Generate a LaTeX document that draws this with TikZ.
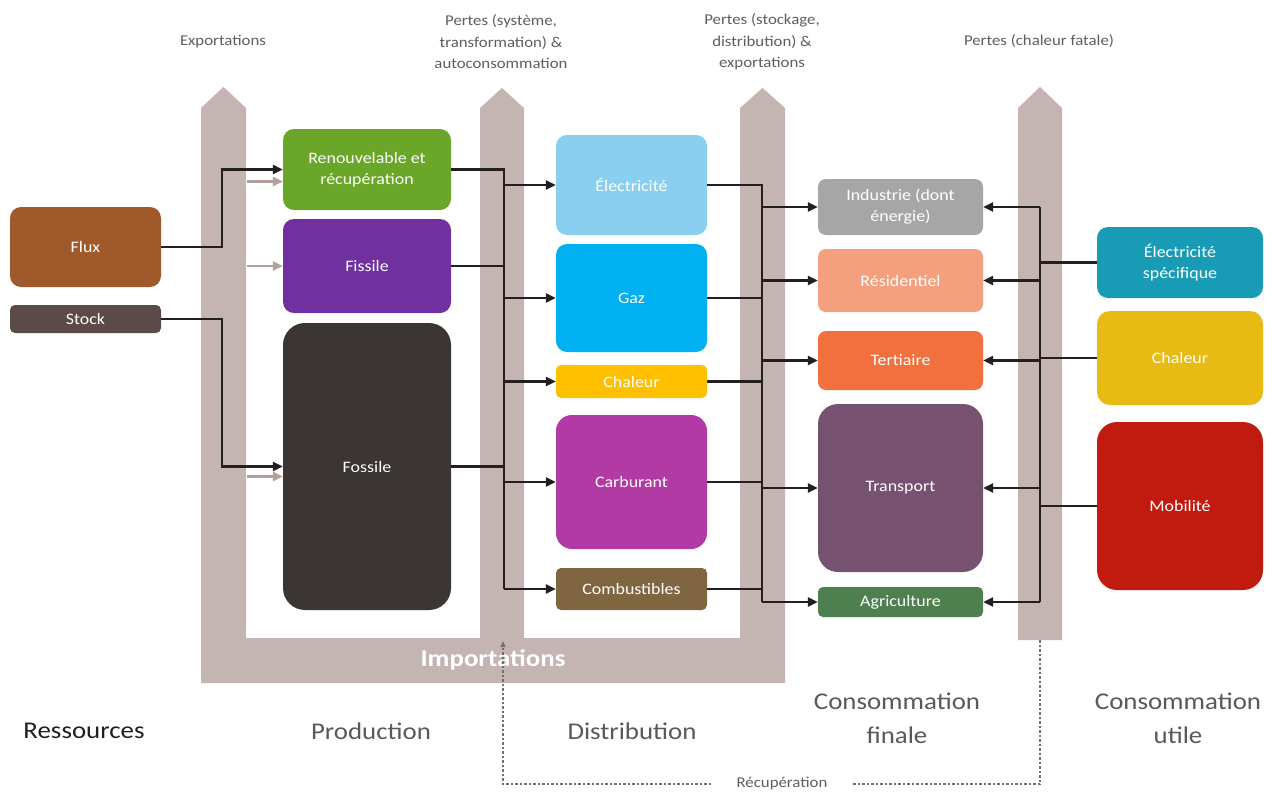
\documentclass[tikz,border=0pt]{standalone}
\usepackage{fontspec}
\setmainfont[FakeStretch=1.12]{Carlito}
\usetikzlibrary{arrows.meta}
\definecolor{bandc}{HTML}{C4B4B2}
\definecolor{linec}{HTML}{231F20}
\definecolor{lightc}{HTML}{B3A09C}
\definecolor{labc}{HTML}{5F5F5F}
\definecolor{botc}{HTML}{595959}
\definecolor{dashc}{HTML}{707070}
\definecolor{cflux}{HTML}{A0592A}
\definecolor{cstock}{HTML}{5B4A47}
\definecolor{crenouv}{HTML}{6AA628}
\definecolor{cfissile}{HTML}{7030A0}
\definecolor{cfossile}{HTML}{3B3534}
\definecolor{celec}{HTML}{8ACFEF}
\definecolor{cgaz}{HTML}{00B0F0}
\definecolor{cchal}{HTML}{FFC000}
\definecolor{ccarb}{HTML}{B13AA4}
\definecolor{ccomb}{HTML}{7F6641}
\definecolor{cindus}{HTML}{A6A6A6}
\definecolor{cres}{HTML}{F4A07F}
\definecolor{ctert}{HTML}{F2703D}
\definecolor{ctrans}{HTML}{775170}
\definecolor{cagri}{HTML}{4D7F4F}
\definecolor{celsp}{HTML}{189CB6}
\definecolor{cchalu}{HTML}{E8BA14}
\definecolor{cmob}{HTML}{C01B0E}
\begin{document}
\begin{tikzpicture}[x=1pt,y=-1pt,
 box/.style={rounded corners=11pt, inner sep=0pt, text=white, align=center, font=\fontsize{16}{21}\selectfont},
 sbox/.style={box, rounded corners=5pt},
 conn/.style={draw=linec, line width=2.7pt, -{Triangle[length=10pt,width=9pt]}},
 bline/.style={draw=linec, line width=2.7pt},
 lconn/.style={draw=lightc, line width=2.7pt, -{Triangle[length=10pt,width=9pt]}},
 toplab/.style={text=labc, align=center, font=\fontsize{15}{21.5}\selectfont},
 botlab/.style={text=botc, align=center, font=\fontsize{24}{34}\selectfont},
 dashl/.style={draw=dashc, line width=1.2pt, dash pattern=on 2.5pt off 2pt}
]
\useasboundingbox (0,0) rectangle (1272,793);
\fill[white] (0,0) rectangle (1272,793);
% grey band
\fill[bandc] (201,683) -- (201,108) -- (223.5,87) -- (246,108) -- (246,638) -- (480,638) -- (480,108) -- (502,88) -- (524,108) -- (524,638) -- (740,638) -- (740,108) -- (762.5,88) -- (785,108) -- (785,683) -- cycle;
\fill[bandc] (1018,640) -- (1018,108) -- (1040,87) -- (1062,108) -- (1062,640) -- cycle;
\node[text=white, font=\fontsize{24}{28}\selectfont\bfseries] (imp) at (493,660) {Importations};
% top labels
\node[toplab] (exp) at (223,42) {Exportations};
\node[toplab] (p1) at (501,42) {Pertes (système,\\transformation) \&\\autoconsommation};
\node[toplab] (p2) at (762,42) {Pertes (stockage,\\distribution) \&\\exportations};
\node[toplab] (p3) at (1039,41) {Pertes (chaleur fatale)};
% bottom labels
\node[botlab, text=black!88] (ress) at (84,731) {Ressources};
\node[botlab] (prod) at (371,731) {Production};
\node[botlab] (dist) at (632,731) {Distribution};
\node[botlab] (cfin) at (897,718) {Consommation\\finale};
\node[botlab] (cut) at (1178,718) {Consommation\\utile};
% nodes
\node[box, fill=cflux, minimum width=151pt, minimum height=80pt] (flux) at (85.5,247) {Flux};
\node[sbox, fill=cstock, minimum width=151pt, minimum height=28pt] (stock) at (85.5,319) {Stock};
\node[box, fill=crenouv, minimum width=168pt, minimum height=81pt] (renouv) at (367,169.5) {Renouvelable et\\récupération};
\node[box, fill=cfissile, minimum width=168pt, minimum height=94pt] (fissile) at (367,266) {Fissile};
\node[box, fill=cfossile, minimum width=168pt, minimum height=287pt, rounded corners=22pt] (fossile) at (367,466.5) {Fossile};
\node[box, fill=celec, minimum width=151pt, minimum height=100pt] (elec) at (631.5,185) {Électricité};
\node[box, fill=cgaz, minimum width=151pt, minimum height=108pt] (gaz) at (631.5,298) {Gaz};
\node[sbox, fill=cchal, minimum width=151pt, minimum height=33pt] (chal) at (631.5,381.5) {Chaleur};
\node[box, fill=ccarb, minimum width=151pt, minimum height=134pt, rounded corners=16pt] (carb) at (631.5,482) {Carburant};
\node[sbox, fill=ccomb, minimum width=151pt, minimum height=42pt] (comb) at (631.5,589) {Combustibles};
\node[box, fill=cindus, minimum width=165pt, minimum height=56pt, rounded corners=8pt] (indus) at (900.5,207) {Industrie (dont\\énergie)};
\node[box, fill=cres, minimum width=165pt, minimum height=63pt, rounded corners=8pt] (res) at (900.5,280.5) {Résidentiel};
\node[box, fill=ctert, minimum width=165pt, minimum height=59pt, rounded corners=8pt] (tert) at (900.5,360.5) {Tertiaire};
\node[box, fill=ctrans, minimum width=165pt, minimum height=168pt, rounded corners=20pt] (trans) at (900.5,488) {Transport};
\node[sbox, fill=cagri, minimum width=165pt, minimum height=30pt] (agri) at (900.5,602) {Agriculture};
\node[box, fill=celsp, minimum width=166pt, minimum height=71pt] (elsp) at (1180,262.5) {Électricité\\spécifique};
\node[box, fill=cchalu, minimum width=166pt, minimum height=94pt, rounded corners=13pt] (chalu) at (1180,358) {Chaleur};
\node[box, fill=cmob, minimum width=166pt, minimum height=168pt, rounded corners=20pt] (mob) at (1180,506) {Mobilité};
% bus coordinates
\coordinate (bus0) at (222,0);
\coordinate (colL) at (247,0);
\coordinate (bus1) at (504,0);
\coordinate (bus2) at (762,0);
\coordinate (bus3) at (1040,0);
% resources -> production
\draw[conn] (flux.east) -- (flux.east -| bus0) |- (renouv.west);
\draw[conn] (stock.east) -- (stock.east -| bus0) |- (fossile.west);
\draw[lconn] ([yshift=-12pt]renouv.west -| colL) -- ([yshift=-12pt]renouv.west);
\draw[lconn] (fissile.west -| colL) -- (fissile.west);
\draw[lconn] ([yshift=-10pt]fossile.west -| colL) -- ([yshift=-10pt]fossile.west);
% production -> distribution
\draw[bline] (renouv.east) -- (renouv.east -| bus1) -- (bus1 |- comb.west);
\draw[bline] (fissile.east) -- (fissile.east -| bus1);
\draw[bline] (fossile.east) -- (fossile.east -| bus1);
\foreach \t in {elec,gaz,chal,carb,comb}{
  \draw[conn] (bus1 |- \t.west) -- (\t.west);
}
% distribution -> finale
\draw[bline] (elec.east) -- (elec.east -| bus2) -- (bus2 |- agri.west);
\foreach \t in {gaz,chal,carb,comb}{
  \draw[bline] (\t.east) -- (\t.east -| bus2);
}
\foreach \t in {indus,res,tert,trans,agri}{
  \draw[conn] (bus2 |- \t.west) -- (\t.west);
}
% utile -> finale
\draw[bline] (bus3 |- indus.east) -- (bus3 |- agri.east);
\foreach \t in {elsp,chalu,mob}{
  \draw[bline] (\t.west) -- (\t.west -| bus3);
}
\foreach \t in {indus,res,tert,trans,agri}{
  \draw[conn] (bus3 |- \t.east) -- (\t.east);
}
% recuperation
\coordinate (rtop) at (1040,640);
\coordinate (ltop) at (503,641);
\node[text=labc, font=\fontsize{15}{18}\selectfont, inner xsep=25pt, inner ysep=0pt] (recup) at (782,784) {Récupération};
\draw[dashl] (rtop) |- (recup.east);
\draw[dashl, -{Triangle[length=6pt,width=5pt]}] (recup.west) -| (ltop);
\end{tikzpicture}
\end{document}
